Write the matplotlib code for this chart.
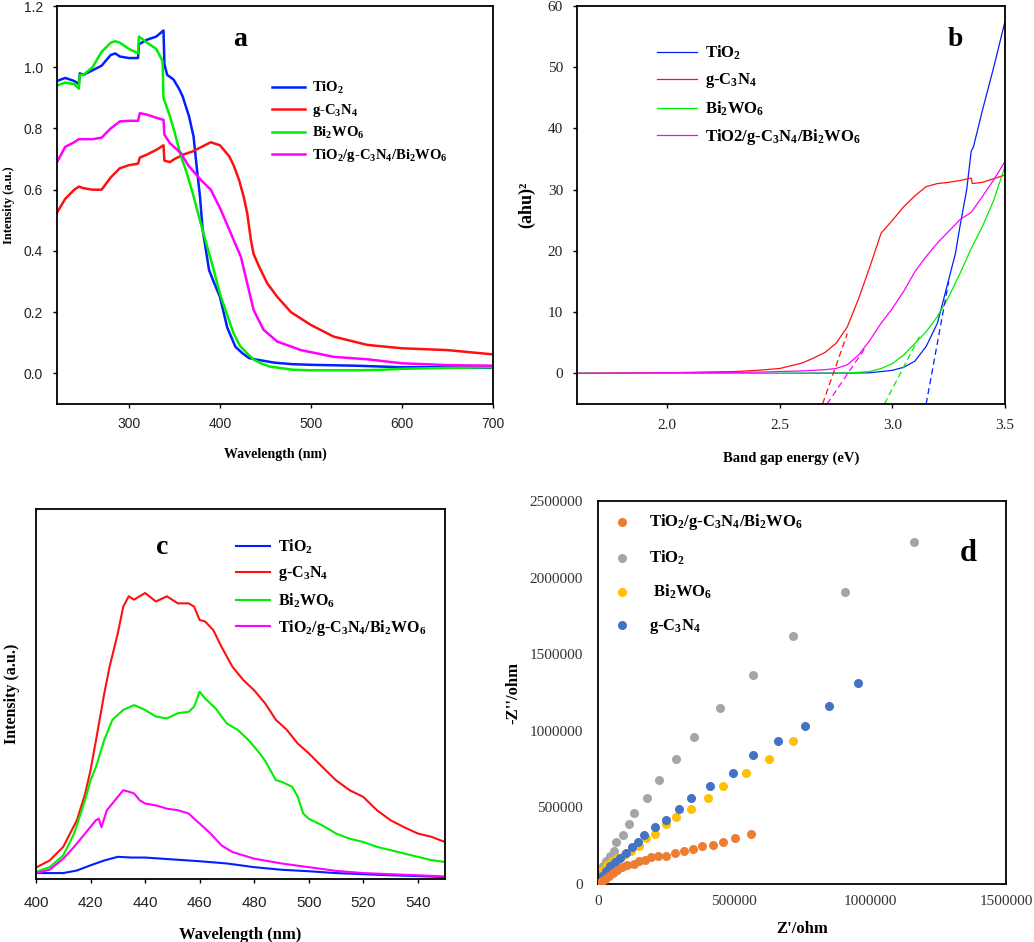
import matplotlib
matplotlib.use("Agg")
import matplotlib.pyplot as plt

plt.rcParams['mathtext.fontset'] = 'custom'
plt.rcParams['mathtext.rm'] = 'Liberation Serif:bold'
plt.rcParams['mathtext.bf'] = 'Liberation Serif:bold'
plt.rcParams['mathtext.default'] = 'bf'

SERIF = 'Liberation Serif'
SANS = 'Liberation Sans'

# ---------------- Panel a: UV-Vis DRS ----------------
a_tio2_wl = [221, 230, 240, 245, 246, 250, 260, 270, 280, 285, 290, 300, 310, 311, 320, 330, 338, 339,
             342, 349, 355, 359, 366, 371, 375, 378, 381, 384, 388, 393, 400, 408, 417, 425, 432, 440,
             450, 460, 480, 500, 550, 600, 650, 700]
a_tio2_I = [0.955, 0.965, 0.955, 0.945, 0.98, 0.975, 0.99, 1.005, 1.04, 1.045, 1.035, 1.03, 1.03, 1.075,
            1.09, 1.10, 1.12, 1.01, 0.975, 0.96, 0.93, 0.905, 0.84, 0.774, 0.66, 0.58, 0.47, 0.414, 0.338,
            0.30, 0.25, 0.15, 0.087, 0.065, 0.05, 0.045, 0.04, 0.035, 0.03, 0.028, 0.025, 0.02, 0.02, 0.018]

a_bi_wl = [221, 230, 240, 245, 246, 250, 260, 270, 280, 285, 290, 300, 310, 311, 320, 330, 337, 338,
           345, 350, 357, 363, 370, 378, 386, 393, 400, 408, 415, 422, 430, 437, 445, 455, 463, 480,
           500, 550, 580, 600, 650, 700]
a_bi_I = [0.94, 0.95, 0.945, 0.93, 0.975, 0.975, 1.0, 1.05, 1.08, 1.085, 1.08, 1.06, 1.045, 1.10, 1.08,
          1.06, 1.02, 0.90, 0.84, 0.79, 0.71, 0.66, 0.59, 0.50, 0.414, 0.34, 0.26, 0.19, 0.131, 0.09,
          0.065, 0.045, 0.033, 0.022, 0.019, 0.012, 0.01, 0.01, 0.012, 0.015, 0.018, 0.02]

a_gcn_wl = [221, 230, 240, 245, 250, 260, 270, 280, 290, 300, 310, 312, 320, 330, 338, 339, 345, 350,
            360, 370, 380, 390, 400, 410, 415, 421, 426, 430, 434, 437, 443, 452, 463, 478, 500, 525,
            562, 600, 650, 700]
a_gcn_I = [0.525, 0.57, 0.60, 0.61, 0.605, 0.60, 0.60, 0.64, 0.67, 0.68, 0.685, 0.705, 0.715, 0.73,
           0.745, 0.695, 0.69, 0.70, 0.715, 0.725, 0.74, 0.755, 0.745, 0.71, 0.68, 0.632, 0.578, 0.523,
           0.436, 0.39, 0.349, 0.294, 0.25, 0.20, 0.158, 0.12, 0.093, 0.082, 0.076, 0.062]

a_comp_wl = [221, 230, 240, 245, 250, 260, 270, 280, 290, 300, 310, 312, 320, 330, 338, 339, 345, 357,
             365, 379, 390, 401, 415, 423, 430, 437, 448, 463, 489, 525, 562, 600, 650, 700]
a_comp_I = [0.69, 0.74, 0.755, 0.765, 0.765, 0.765, 0.77, 0.80, 0.823, 0.825, 0.825, 0.85, 0.845, 0.835,
            0.828, 0.78, 0.752, 0.72, 0.68, 0.632, 0.60, 0.534, 0.436, 0.381, 0.294, 0.207, 0.142, 0.104,
            0.076, 0.054, 0.046, 0.033, 0.027, 0.025]

a_xticks = [300, 400, 500, 600, 700]
a_yticks = [0.0, 0.2, 0.4, 0.6, 0.8, 1.0, 1.2]

# ---------------- Panel b: Tauc plot ----------------
b_tio2_E = [1.6, 2.0, 2.5, 2.8, 2.9, 3.0, 3.05, 3.1, 3.15, 3.2, 3.25, 3.28, 3.3, 3.33, 3.35, 3.36, 3.4, 3.45, 3.5]
b_tio2_v = [0, 0, 0, 0.05, 0.1, 0.5, 1.0, 2.0, 4.4, 8.2, 15.3, 19.6, 24, 30, 36.3, 37, 43, 50, 57.5]
b_gcn_E = [1.6, 2.0, 2.3, 2.4, 2.5, 2.6, 2.65, 2.7, 2.75, 2.8, 2.85, 2.9, 2.95, 3.0, 3.05, 3.1, 3.15,
           3.2, 3.25, 3.3, 3.35, 3.355, 3.4, 3.45, 3.5]
b_gcn_v = [0, 0.1, 0.3, 0.5, 0.8, 1.7, 2.5, 3.4, 4.9, 7.6, 12.2, 17.4, 22.9, 25, 27.2, 29, 30.5, 31,
           31.2, 31.5, 31.9, 31.0, 31.2, 31.8, 32.4]
b_bi_E = [1.6, 2.0, 2.5, 2.8, 2.9, 2.95, 3.0, 3.05, 3.1, 3.15, 3.2, 3.25, 3.3, 3.35, 3.4, 3.45, 3.5]
b_bi_v = [0, 0, 0, 0.05, 0.3, 0.8, 1.6, 3.0, 4.9, 6.8, 9.3, 12.5, 16.3, 20.4, 24, 28.3, 33.8]
b_comp_E = [1.6, 2.0, 2.4, 2.6, 2.7, 2.75, 2.8, 2.85, 2.9, 2.95, 3.0, 3.05, 3.1, 3.15, 3.2, 3.25, 3.3,
            3.35, 3.4, 3.45, 3.5]
b_comp_v = [0, 0.1, 0.2, 0.4, 0.6, 0.8, 1.4, 3.0, 5.4, 8.2, 10.6, 13.4, 16.6, 19.1, 21.3, 23.2, 25.1,
            26.3, 28.9, 31.6, 34.6]
# tangent (extrapolation) lines
b_tan_tio2_E = [3.15, 3.25]
b_tan_tio2_v = [-5, 15]
b_tan_gcn_E = [2.69, 2.80]
b_tan_gcn_v = [-5, 6.5]
b_tan_bi_E = [2.965, 3.12]
b_tan_bi_v = [-5, 6]
b_tan_comp_E = [2.71, 2.88]
b_tan_comp_v = [-5, 4.2]
b_xticks = [2.0, 2.5, 3.0, 3.5]
b_yticks = [0, 10, 20, 30, 40, 50, 60]

# ---------------- Panel c: PL spectra ----------------
c_gcn_wl = [400, 405, 410, 415, 418, 420, 422, 425, 427, 430, 432, 434, 436, 440, 444, 448, 452, 456, 458,
            460, 462, 465, 468, 472, 476, 480, 484, 488, 492, 496, 500, 505, 510, 515, 520, 525, 530, 535,
            540, 545, 550]
c_gcn_I = [3.1, 5, 8.7, 15.9, 23, 29.4, 37.5, 50, 57.4, 66.4, 73.6, 76.4, 75.5, 77.3, 75, 76.4, 74.5,
           74.5, 73.6, 70, 69.6, 67.3, 62.8, 57.4, 53.8, 51, 47.5, 43, 40.3, 36.6, 34, 30.3, 26.7, 24,
           22.2, 18.6, 15.9, 14, 12.3, 11.4, 10]
c_bi_wl = [400, 405, 410, 414, 418, 420, 422, 425, 428, 432, 436, 440, 444, 448, 452, 456, 458, 460, 462,
           466, 470, 474, 478, 482, 484, 488, 490, 494, 496, 498, 500, 505, 510, 515, 520, 525, 530, 535,
           540, 545, 550]
c_bi_I = [1.9, 3.2, 6.4, 12.3, 21.3, 26.7, 30.3, 37.5, 43, 45.7, 47, 45.7, 43.9, 43.4, 44.8, 45.2, 46.6,
          50.6, 48.8, 46, 42, 40.3, 37.5, 34, 32, 26.7, 26.3, 24.9, 22.2, 17.7, 16.3, 14.5, 12.3, 10.9,
          10, 8.7, 7.8, 6.9, 6, 5.1, 4.6]
c_comp_wl = [400, 405, 410, 414, 418, 422, 423, 424, 426, 429, 432, 434, 436, 438, 440, 444, 448, 452,
             456, 458, 460, 464, 468, 472, 476, 480, 490, 500, 510, 520, 530, 540, 550]
c_comp_I = [1.6, 2.5, 5.5, 8.7, 12.3, 15.9, 16.3, 14, 18.6, 21.3, 24, 23.6, 23.1, 21.3, 20.4, 19.9, 19,
            18.6, 17.7, 16.3, 15, 12.3, 9.1, 7.3, 6.4, 5.5, 4.2, 3.2, 2.2, 1.6, 1.3, 1.0, 0.7]
c_tio2_wl = [400, 410, 415, 420, 425, 430, 435, 440, 450, 460, 470, 480, 490, 500, 510, 520, 530, 540, 550]
c_tio2_I = [1.6, 1.6, 2.3, 3.7, 5.0, 6.0, 5.8, 5.8, 5.3, 4.8, 4.2, 3.2, 2.5, 2.1, 1.6, 1.3, 1.0, 0.8, 0.5]
c_xticks = [400, 420, 440, 460, 480, 500, 520, 540]

# ---------------- Panel d: Nyquist plots ----------------
d_comp_x = [562500, 502500, 460800, 422800, 382400, 348000, 315000, 281900, 251200, 221800, 194900,
            174000, 149500, 131100, 106600, 88200, 69900, 53900, 39200, 27000, 14700, 2500]
d_comp_y = [328300, 300000, 273900, 252200, 245700, 228300, 213000, 202200, 180400, 184800, 173900,
            158700, 147800, 132600, 126100, 110900, 89100, 71700, 50000, 34800, 17400, 6500]
d_tio2_x = [1163000, 907000, 718000, 568600, 447300, 354200, 288000, 223000, 180100, 133600, 115200,
            90700, 66200, 57600, 42900, 29400, 17200, 6100, 0]
d_tio2_y = [2232600, 1906500, 1619500, 1365200, 1145600, 956500, 813000, 680400, 563000, 460900, 393500,
            319600, 273900, 213000, 180400, 147800, 115200, 71700, 39100]
d_bi_x = [718000, 627500, 544100, 460800, 405600, 341900, 288000, 248800, 210800, 176500, 150700,
          121300, 94400, 69900, 51500, 33100, 18400, 6100, 0]
d_bi_y = [930400, 813000, 723900, 637000, 563000, 489100, 434800, 391300, 328300, 297800, 250000,
          213000, 191300, 169600, 147800, 126100, 93500, 50000, 17400]
d_gcn_x = [956000, 849300, 759800, 661800, 568600, 495100, 413000, 341900, 299000, 251200, 210800,
           167900, 148300, 123800, 102900, 82100, 61300, 45300, 29400, 14700, 4900, 0]
d_gcn_y = [1310900, 1163000, 1028300, 930400, 839100, 723900, 637000, 563000, 489100, 415200, 373900,
           319600, 273900, 243500, 202200, 169600, 143500, 115200, 82600, 54300, 23900, 6500]
d_xticks = [0, 500000, 1000000, 1500000]
d_yticks = [0, 500000, 1000000, 1500000, 2000000, 2500000]

lbl_tio2 = "TiO$_2$"
lbl_gcn = "g-C$_3$N$_4$"
lbl_bi = "Bi$_2$WO$_6$"
lbl_comp = "TiO$_2$/g-C$_3$N$_4$/Bi$_2$WO$_6$"
lbl_comp_b = "TiO2/g-C$_3$N$_4$/Bi$_2$WO$_6$"

W, H = 1034, 942
fig = plt.figure(figsize=(W / 100, H / 100), dpi=100)


def ax_at(l, t, r, b):
    return fig.add_axes([l / W, 1 - b / H, (r - l) / W, (b - t) / H])


def style_ax(ax, fs, family, xpad, ypad, ticks=True):
    for s in ax.spines.values():
        s.set_linewidth(1.3)
        s.set_color('black')
    if ticks:
        ax.tick_params(direction='out', length=3, width=1, labelsize=fs, colors='black',
                       labelcolor='#222222')
    else:
        ax.tick_params(length=0, labelsize=fs, labelcolor='#333333')
    ax.tick_params(axis='x', pad=xpad)
    ax.tick_params(axis='y', pad=ypad)
    for t in ax.get_xticklabels() + ax.get_yticklabels():
        t.set_family(family)


BLUE, RED, GREEN, MAG = '#0020ff', '#ff1010', '#00ee00', '#ff00ff'

# ---- a ----
axa = ax_at(57, 6, 493, 404)
lw = 1.8
axa.plot(a_tio2_wl, a_tio2_I, color=BLUE, lw=lw, label=lbl_tio2)
axa.plot(a_gcn_wl, a_gcn_I, color=RED, lw=lw, label=lbl_gcn)
axa.plot(a_bi_wl, a_bi_I, color=GREEN, lw=lw, label=lbl_bi)
axa.plot(a_comp_wl, a_comp_I, color=MAG, lw=lw, label=lbl_comp)
axa.set_xlim(221, 700)
axa.set_ylim(-0.1, 1.2)
axa.set_xticks(a_xticks)
axa.set_yticks(a_yticks)
axa.set_yticklabels([f"{v:.1f}" for v in a_yticks])
style_ax(axa, 10, SANS, xpad=6, ypad=7)
axa.set_ylabel("Intensity (a.u.)", family=SERIF, fontweight='bold', fontsize=9, labelpad=6)
axa.set_xlabel("Wavelength (nm)", family=SERIF, fontweight='bold', fontsize=10, labelpad=12)
axa.text(0.42, 0.915, "a", transform=axa.transAxes, family=SERIF, fontweight='bold', fontsize=20,
         ha='center', va='center')
axa.legend(loc='upper left', bbox_to_anchor=(0.493, 0.815), frameon=False, borderpad=0,
           borderaxespad=0, handlelength=2.3, handletextpad=0.45, labelspacing=0.42,
           prop={'family': SERIF, 'weight': 'bold', 'size': 10.5})

# ---- b ----
axb = ax_at(577, 6, 1005, 404)
lwb = 0.9
axb.plot(b_tio2_E, b_tio2_v, color=BLUE, lw=lwb, label=lbl_tio2)
axb.plot(b_gcn_E, b_gcn_v, color=RED, lw=lwb, label=lbl_gcn)
axb.plot(b_bi_E, b_bi_v, color=GREEN, lw=lwb, label=lbl_bi)
axb.plot(b_comp_E, b_comp_v, color=MAG, lw=lwb, label=lbl_comp_b)
axb.plot(b_tan_tio2_E, b_tan_tio2_v, color=BLUE, lw=lwb, ls=(0, (5, 3)))
axb.plot(b_tan_gcn_E, b_tan_gcn_v, color=RED, lw=lwb, ls=(0, (5, 3)))
axb.plot(b_tan_bi_E, b_tan_bi_v, color=GREEN, lw=lwb, ls=(0, (5, 3)))
axb.plot(b_tan_comp_E, b_tan_comp_v, color=MAG, lw=lwb, ls=(0, (5, 3)))
axb.set_xlim(1.6, 3.5)
axb.set_ylim(-5, 60)
axb.set_xticks(b_xticks)
axb.set_xticklabels([f"{v:.1f}" for v in b_xticks])
axb.set_yticks(b_yticks)
style_ax(axb, 11, SERIF, xpad=8, ypad=7)
axb.set_ylabel("(ahu)²", family=SERIF, fontweight='bold', fontsize=13, labelpad=9)
axb.set_xlabel("Band gap energy (eV)", family=SERIF, fontweight='bold', fontsize=10.5, labelpad=14)
axb.text(0.883, 0.915, "b", transform=axb.transAxes, family=SERIF, fontweight='bold', fontsize=20,
         ha='center', va='center')
axb.legend(loc='upper left', bbox_to_anchor=(0.187, 0.905), frameon=False, borderpad=0,
           borderaxespad=0, handlelength=2.4, handletextpad=0.5, labelspacing=0.55,
           prop={'family': SERIF, 'weight': 'bold', 'size': 12})

# ---- c ----
axc = ax_at(36, 509, 445, 879)
lwc = 1.5
axc.plot(c_tio2_wl, c_tio2_I, color=BLUE, lw=lwc, label=lbl_tio2)
axc.plot(c_gcn_wl, c_gcn_I, color=RED, lw=lwc, label=lbl_gcn)
axc.plot(c_bi_wl, c_bi_I, color=GREEN, lw=lwc, label=lbl_bi)
axc.plot(c_comp_wl, c_comp_I, color=MAG, lw=lwc, label=lbl_comp)
axc.set_xlim(400, 550)
axc.set_ylim(0, 100)
axc.set_xticks(c_xticks)
axc.set_yticks([])
style_ax(axc, 11, SANS, xpad=9.5, ypad=3)
axc.set_ylabel("Intensity (a.u.)", family=SERIF, fontweight='bold', fontsize=11.5, labelpad=11.5)
axc.set_xlabel("Wavelength (nm)", family=SERIF, fontweight='bold', fontsize=12, labelpad=12)
axc.text(0.308, 0.897, "c", transform=axc.transAxes, family=SERIF, fontweight='bold', fontsize=20,
         ha='center', va='center')
axc.legend(loc='upper left', bbox_to_anchor=(0.489, 0.922), frameon=False, borderpad=0,
           borderaxespad=0, handlelength=2.1, handletextpad=0.55, labelspacing=0.5,
           prop={'family': SERIF, 'weight': 'bold', 'size': 11.5})

# ---- d ----
axd = ax_at(598, 501, 1006, 884)
ms = 30
axd.scatter(d_comp_x, d_comp_y, s=ms, color='#ed7d31', label=lbl_comp, zorder=3)
axd.scatter(d_tio2_x, d_tio2_y, s=ms, color='#a5a5a5', label=lbl_tio2, zorder=2)
axd.scatter(d_bi_x, d_bi_y, s=ms, color='#ffc000', label=" " + lbl_bi, zorder=2)
axd.scatter(d_gcn_x, d_gcn_y, s=ms, color='#4472c4', label=lbl_gcn, zorder=2)
axd.set_xlim(0, 1500000)
axd.set_ylim(0, 2500000)
axd.set_xticks(d_xticks)
axd.set_yticks(d_yticks)
axd.set_xticklabels([str(v) for v in d_xticks])
axd.set_yticklabels([str(v) for v in d_yticks])
style_ax(axd, 11, SERIF, xpad=8, ypad=11, ticks=False)
axd.set_ylabel("-Z''/ohm", family=SERIF, fontweight='bold', fontsize=12, labelpad=6)
axd.set_xlabel("Z'/ohm", family=SERIF, fontweight='bold', fontsize=12, labelpad=9.5)
axd.text(0.907, 0.864, "d", transform=axd.transAxes, family=SERIF, fontweight='bold', fontsize=22,
         ha='center', va='center')
axd.legend(loc='upper left', bbox_to_anchor=(0.035, 0.97), frameon=False, borderpad=0,
           borderaxespad=0, handlelength=1.2, handletextpad=1.0, labelspacing=0.95, scatterpoints=1,
           prop={'family': SERIF, 'weight': 'bold', 'size': 12})

fig.savefig("out.png", dpi=100)
